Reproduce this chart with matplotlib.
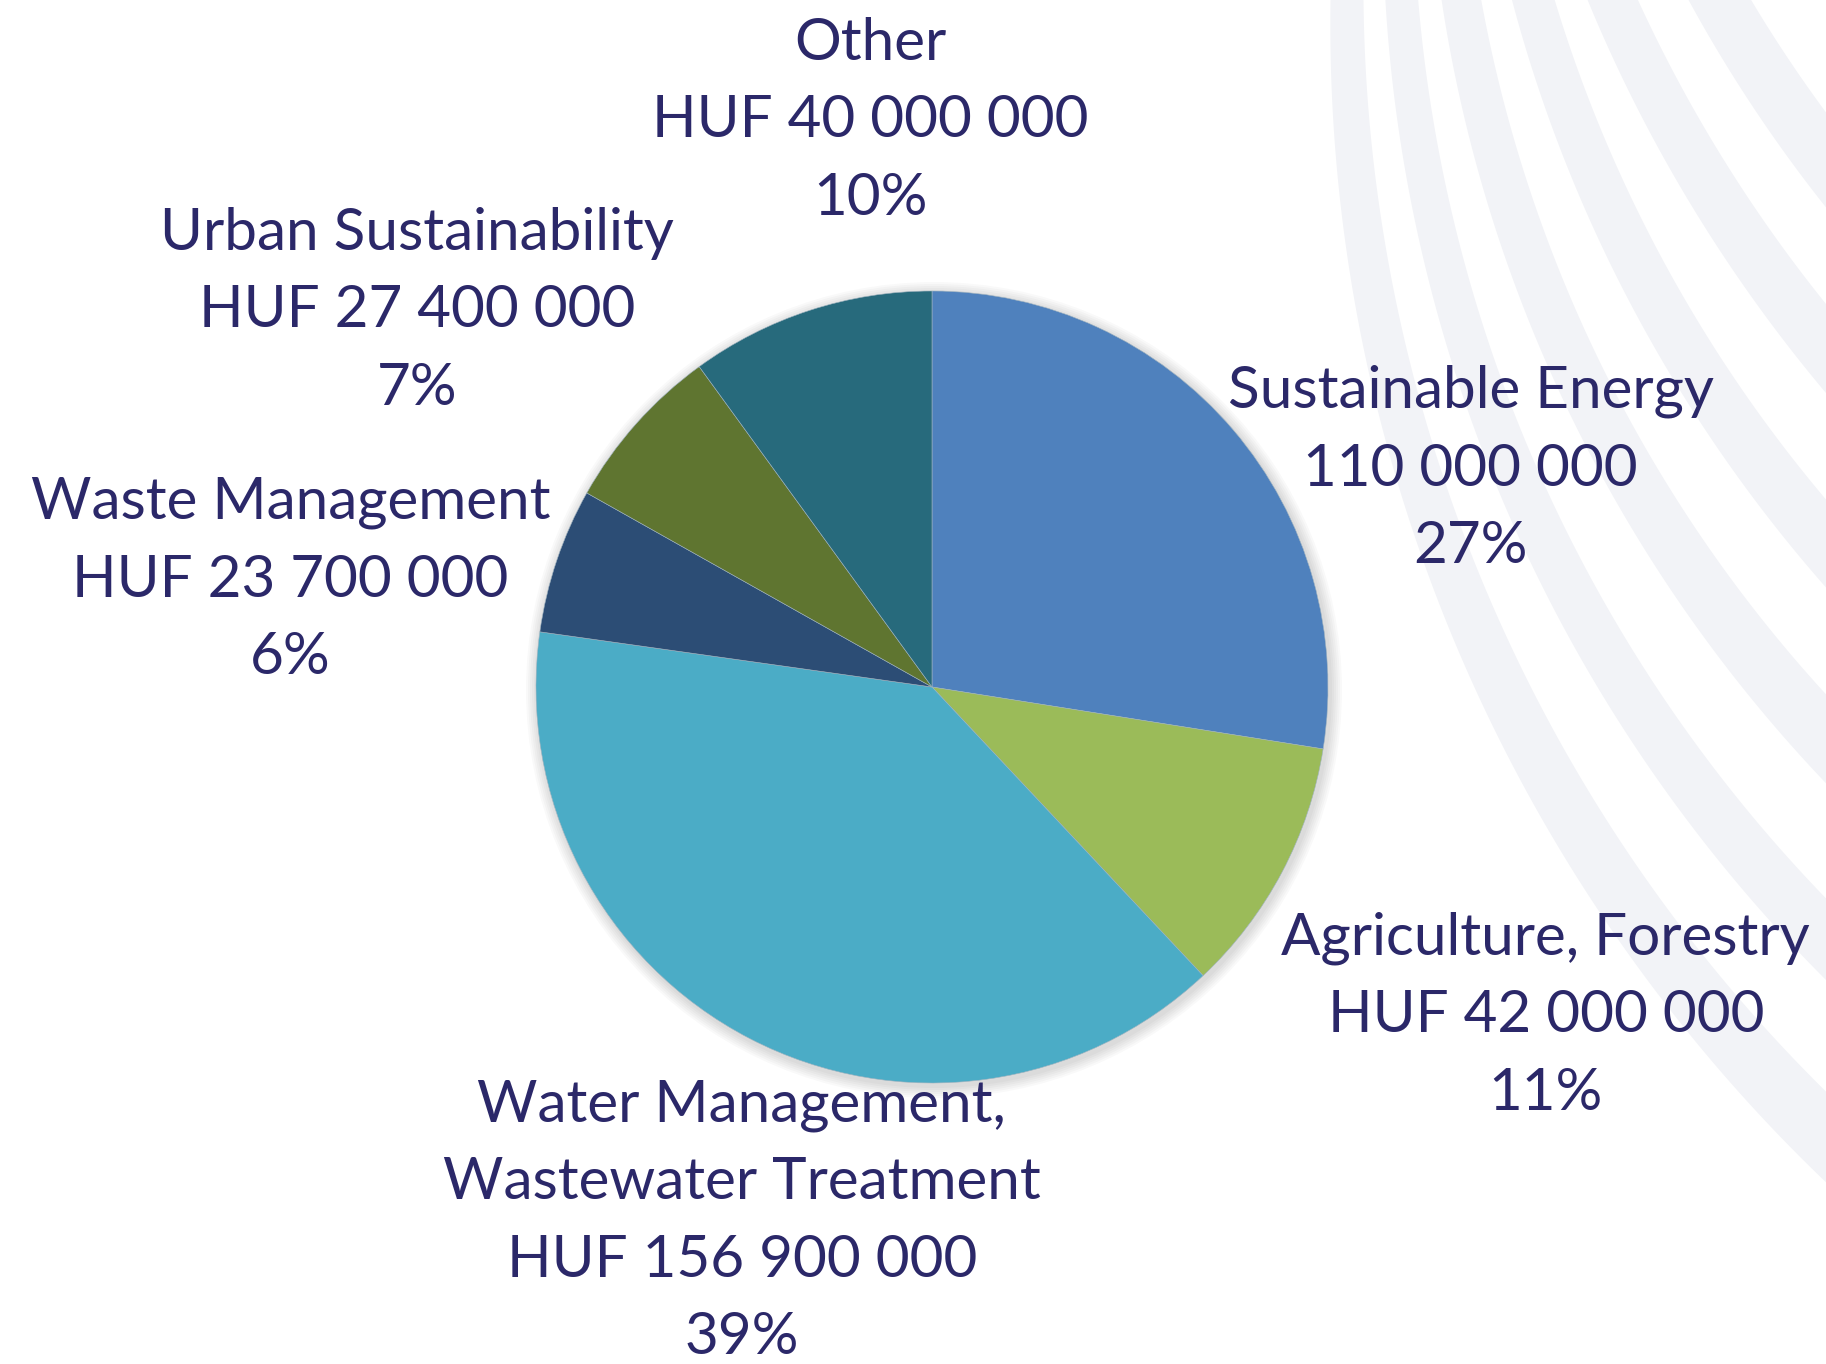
import numpy as np
import matplotlib.pyplot as plt
from matplotlib.patches import Circle, Polygon

# data
categories = ['Sustainable Energy', 'Agriculture, Forestry',
              'Water Management,\nWastewater Treatment', 'Waste Management',
              'Urban Sustainability', 'Other']
values = [110000000, 42000000, 156900000, 23700000, 27400000, 40000000]
prefixes = ['', 'HUF ', 'HUF ', 'HUF ', 'HUF ', 'HUF ']
pct_labels = ['27%', '11%', '39%', '6%', '7%', '10%']
colors = ['#4F81BD', '#9BBB59', '#4BACC6', '#2C4D75', '#5F7530', '#276A7C']

# label centres, in pie radii from the pie centre
label_offsets = [(1.36, 0.55), (1.55, -0.83), (-0.48, -1.35),
                 (-1.62, 0.27), (-1.30, 0.95), (-0.155, 1.43)]

W, H = 1826, 1364
text_color = '#2B2869'

fig = plt.figure(figsize=(W / 100, H / 100), dpi=100)
ax = fig.add_axes([0, 0, 1, 1])

# decorative bands on the right (pixel coords, y measured from the top):
# centre x, centre y, radius, width at top, width at right edge
bands = [(2926, 4, 1579, 30, 69),
         (2888, -106, 1490, 30, 61),
         (2866, -234, 1424, 36, 65),
         (2908, -390, 1429, 38, 62),
         (2959, -585, 1468, 43, 61),
         (2947, -700, 1413, 52, 61)]
for bx, by, r, w0, w1 in bands:
    ang = np.linspace(np.deg2rad(120), np.deg2rad(270), 600)
    ux, uy = np.cos(ang), -np.sin(ang)
    px, py = bx + r * ux, by + r * uy
    keep = (py > -120) & (px < W + 120)
    ux, uy = ux[keep], uy[keep]
    frac = np.linspace(0, 1, len(ux))
    w = w0 + (w1 - w0) * frac
    outer = np.c_[bx + (r + w / 2) * ux, by + (r + w / 2) * uy]
    inner = np.c_[bx + (r - w / 2) * ux, by + (r - w / 2) * uy][::-1]
    pts = np.vstack([outer, inner])
    pts[:, 1] = H - pts[:, 1]
    ax.add_patch(Polygon(pts, closed=True, color='#F2F3F7', lw=0, zorder=0))

cx, cy, R = 932, H - 687, 396

# soft shadow round the pie
for k in range(6):
    ax.add_patch(Circle((cx + 2, cy - 3), R + 2 + 2 * k, color='black',
                        alpha=0.025, lw=0, zorder=1))

ax.pie(values, colors=colors, startangle=90, counterclock=False,
       center=(cx, cy), radius=R, frame=True,
       wedgeprops=dict(linewidth=0.4, edgecolor='#9fb3c0', zorder=2))

for cat, v, pre, pct, (dx, dy) in zip(categories, values, prefixes,
                                      pct_labels, label_offsets):
    amount = f"{v:,}".replace(',', ' ')
    txt = f"{cat}\n{pre}{amount}\n{pct}"
    ax.text(cx + dx * R, cy + dy * R, txt, ha='center', va='center',
            ma='center', fontsize=42, color=text_color, family='Lato',
            linespacing=1.57, zorder=3)

ax.set_xlim(0, W)
ax.set_ylim(0, H)
ax.set_aspect('equal')
ax.set_axis_off()

fig.savefig('out.png', dpi=100, facecolor='white')
